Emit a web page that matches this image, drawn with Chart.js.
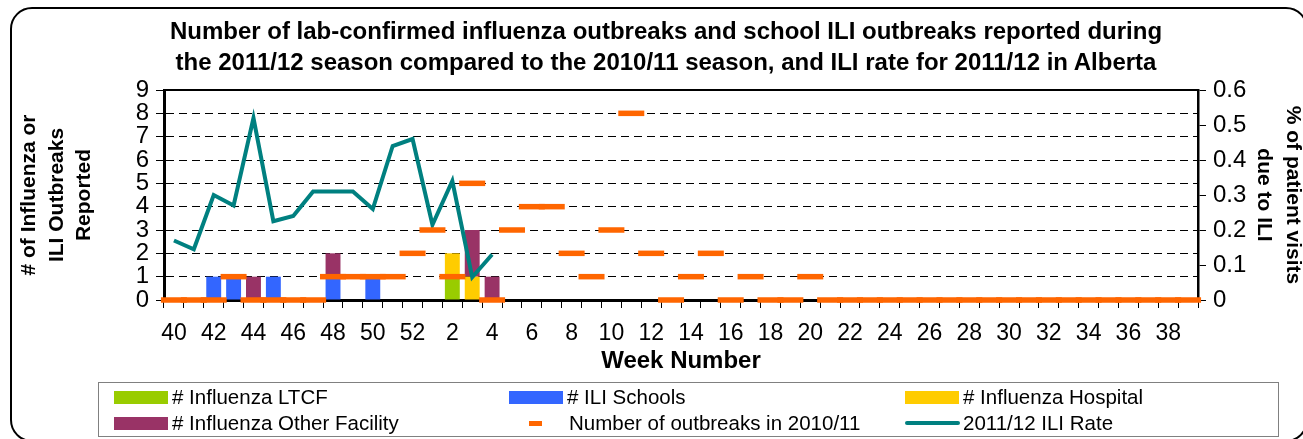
<!DOCTYPE html>
<html>
<head>
<meta charset="utf-8">
<script src="https://cdn.jsdelivr.net/npm/chart.js"></script>
<style>
  html, body { margin: 0; padding: 0; background: #fff; overflow: hidden; }
  body { width: 1303px; height: 439px; position: relative; font-family: Arial, "Liberation Sans", sans-serif; color: #000; }
  #frame { position: absolute; left: 10px; top: 7px; width: 1298px; height: 435px; box-sizing: border-box; border: 2.5px solid #000; border-radius: 22px; }
  #trendChart { position: absolute; left: 0; top: 0; }
  #title { position: absolute; left: 0; width: 1332px; top: 15px; text-align: center; font-weight: bold; font-size: 24px; line-height: 31px; }
  #legend-box { position: absolute; left: 98px; top: 382px; width: 1181px; height: 55px; box-sizing: border-box; border: 1.5px solid #808080; }
  .lg-text { position: absolute; font-size: 20.5px; line-height: 22px; white-space: nowrap; }
  .lg-mark { position: absolute; }
</style>
</head>
<body>
<div id="frame"></div>
<canvas id="trendChart" width="1310" height="439"></canvas>
<div id="title">Number of lab-confirmed influenza outbreaks and school ILI outbreaks reported during<br>the 2011/12 season compared to the 2010/11 season, and ILI rate for 2011/12 in Alberta</div>
<div id="legend-box"></div>
<div id="legend"></div>
<script>
// week numbers, 2011/12 season (week 40 to week 39)
const weeks = ['40','41','42','43','44','45','46','47','48','49','50','51','52',
  '1','2','3','4','5','6','7','8','9','10','11','12','13','14','15','16','17','18','19','20',
  '21','22','23','24','25','26','27','28','29','30','31','32','33','34','35','36','37','38','39'];

// outbreaks per week (left axis)
//                 40 41 42 43 44 45 46 47 48 49 50 51 52  1  2  3  4  5  6  7  8  9 10 11 12 13 14 15 16 17 18 19 20 21 ... 39
const ltcf     = [ 0, 0, 0, 0, 0, 0, 0, 0, 0, 0, 0, 0, 0, 0, 1, 0, 0, 0, 0, 0, 0, 0, 0, 0, 0, 0, 0, 0, 0, 0, 0, 0, 0, 0,0,0,0,0,0,0,0,0,0,0,0,0,0,0,0,0,0,0];
const schools  = [ 0, 0, 1, 1, 0, 1, 0, 0, 1, 0, 1, 0, 0, 0, 0, 0, 0, 0, 0, 0, 0, 0, 0, 0, 0, 0, 0, 0, 0, 0, 0, 0, 0, 0,0,0,0,0,0,0,0,0,0,0,0,0,0,0,0,0,0,0];
const hospital = [ 0, 0, 0, 0, 0, 0, 0, 0, 0, 0, 0, 0, 0, 0, 1, 1, 0, 0, 0, 0, 0, 0, 0, 0, 0, 0, 0, 0, 0, 0, 0, 0, 0, 0,0,0,0,0,0,0,0,0,0,0,0,0,0,0,0,0,0,0];
const otherFac = [ 0, 0, 0, 0, 1, 0, 0, 0, 1, 0, 0, 0, 0, 0, 0, 2, 1, 0, 0, 0, 0, 0, 0, 0, 0, 0, 0, 0, 0, 0, 0, 0, 0, 0,0,0,0,0,0,0,0,0,0,0,0,0,0,0,0,0,0,0];
const prevSeason = [0, 0, 0, 1, 0, 0, 0, 0, 1, 1, 1, 1, 2, 3, 1, 5, 0, 3, 4, 4, 2, 1, 3, 8, 2, 0, 1, 2, 0, 1, 0, 0, 1, 0,0,0,0,0,0,0,0,0,0,0,0,0,0,0,0,0,0,0];

// % of patient visits due to ILI (right axis), reported up to week 4
const iliRate = [0.17, 0.145, 0.30, 0.27, 0.52, 0.225, 0.24, 0.31, 0.31, 0.31, 0.26, 0.44, 0.46,
  0.215, 0.34, 0.065, 0.13];

const leftTicks = { min: 0, max: 9, step: 1 };
const rightTicks = { min: 0, max: 0.6, step: 0.1 };

const C = {
  ltcf: '#99CC00', schools: '#3366FF', hospital: '#FFCC00', other: '#993366',
  prev: '#FF6600', ili: '#008080'
};

// top edge of the plot box
const plotFrame = {
  id: 'plotFrame',
  afterDraw(chart) {
    const a = chart.chartArea, ctx = chart.ctx;
    ctx.save();
    ctx.strokeStyle = '#000';
    ctx.lineWidth = 2;
    ctx.beginPath();
    ctx.moveTo(a.left, a.top);
    ctx.lineTo(a.right, a.top);
    ctx.stroke();
    ctx.restore();
  }
};

const barDs = (label, data, color) => ({
  type: 'bar', label, data, backgroundColor: color, borderWidth: 0,
  yAxisID: 'y', stack: 'outbreaks', order: 3,
  barPercentage: 0.75, categoryPercentage: 1
});

const ctx = document.getElementById('trendChart').getContext('2d');
const myChart = new Chart(ctx, {
  data: {
    labels: weeks,
    datasets: [
      barDs('# Influenza LTCF', ltcf, C.ltcf),
      barDs('# ILI Schools', schools, C.schools),
      barDs('# Influenza Hospital', hospital, C.hospital),
      barDs('# Influenza Other Facility', otherFac, C.other),
      {
        type: 'line', label: 'Number of outbreaks in 2010/11', data: prevSeason,
        yAxisID: 'y', stack: 'prev', order: 0, showLine: false, clip: false,
        pointStyle: 'line', pointRadius: 13, pointBorderWidth: 5.5,
        pointBorderColor: C.prev, pointBackgroundColor: C.prev, borderColor: C.prev
      },
      {
        type: 'line', label: '2011/12 ILI Rate', data: iliRate,
        yAxisID: 'y1', order: 1, borderColor: C.ili, borderWidth: 4,
        pointRadius: 0, tension: 0, borderJoinStyle: 'miter', fill: false
      }
    ]
  },
  options: {
    responsive: false,
    animation: false,
    events: [],
    layout: { padding: { left: 0, right: 0, top: 90, bottom: 59 } },
    plugins: { legend: { display: false }, tooltip: { enabled: false }, title: { display: false } },
    scales: {
      x: {
        stacked: true,
        offset: true,
        afterFit: (s) => { s.height = 80; },
        grid: { offset: true, drawOnChartArea: false, drawTicks: true, tickLength: 8, color: '#000', tickColor: '#000' },
        border: { display: true, color: '#000', width: 3 },
        ticks: {
          autoSkip: false, maxRotation: 0, minRotation: 0, padding: 12,
          color: '#000', font: { family: 'Arial', size: 23 },
          callback: (v, i) => (i % 2 === 0 ? weeks[i] : '')
        },
        title: {
          display: true, text: 'Week Number', color: '#000',
          font: { family: 'Arial', size: 24, weight: 'bold' }, padding: { top: 0, bottom: 4 }
        }
      },
      y: {
        position: 'left',
        stacked: true,
        min: leftTicks.min, max: leftTicks.max,
        afterFit: (s) => { s.width = 164; },
        grid: {
          color: (c) => (c.tick && (c.tick.value === 0 || c.tick.value === 9) ? 'rgba(0,0,0,0)' : '#000'),
          tickBorderDash: [], tickColor: '#000', tickLength: 8, lineWidth: 1
        },
        border: { display: true, color: '#000', width: 3, dash: [8, 5] },
        ticks: { stepSize: leftTicks.step, autoSkip: false, padding: 7, color: '#000', font: { family: 'Arial', size: 24 } },
        title: {
          display: true, text: ['# of Influenza or', 'ILI Outbreaks', 'Reported'], color: '#000',
          font: { family: 'Arial', size: 21, weight: 'bold', lineHeight: 1.3 }, padding: { top: 16, bottom: 0 }
        }
      },
      y1: {
        position: 'right',
        min: rightTicks.min, max: rightTicks.max,
        afterFit: (s) => { s.width = 112; },
        grid: { drawOnChartArea: false, tickColor: '#000', tickLength: 8 },
        border: { display: true, color: '#000', width: 2.5 },
        ticks: {
          stepSize: rightTicks.step, autoSkip: false, padding: 7, color: '#000', font: { family: 'Arial', size: 24 },
          callback: (v) => (v === 0 ? '0' : v.toFixed(1))
        },
        title: {
          display: true, text: ['% of patient visits', 'due to ILI'], color: '#000',
          font: { family: 'Arial', size: 21, weight: 'bold', lineHeight: 1.38 }, padding: { top: 3, bottom: 0 }
        }
      }
    }
  },
  plugins: [plotFrame]
});

// legend, laid out in two rows of three like the original
const legendItems = [
  { text: '# Influenza LTCF', kind: 'box', color: C.ltcf, x: 114, row: 0 },
  { text: '# ILI Schools', kind: 'box', color: C.schools, x: 509, row: 0 },
  { text: '# Influenza Hospital', kind: 'box', color: C.hospital, x: 905, row: 0 },
  { text: '# Influenza Other Facility', kind: 'box', color: C.other, x: 114, row: 1 },
  { text: 'Number of outbreaks in 2010/11', kind: 'dash', color: C.prev, x: 529, row: 1 },
  { text: '2011/12 ILI Rate', kind: 'line', color: C.ili, x: 905, row: 1 }
];
const rowY = [397, 423];
const legend = document.getElementById('legend');
legendItems.forEach((it) => {
  const cy = rowY[it.row];
  const m = document.createElement('div');
  m.className = 'lg-mark';
  m.style.background = it.color;
  let w = 54, h = 13, tx = it.x + 58;
  if (it.kind === 'dash') { w = 13; h = 5; tx = it.x + 40; }
  if (it.kind === 'line') { w = 55; h = 4; }
  m.style.left = it.x + 'px';
  m.style.width = w + 'px';
  m.style.height = h + 'px';
  m.style.top = (cy - h / 2) + 'px';
  if (it.kind === 'line') m.style.borderRadius = '2px';
  legend.appendChild(m);
  const t = document.createElement('div');
  t.className = 'lg-text';
  t.textContent = it.text;
  t.style.left = tx + 'px';
  t.style.top = (cy - 11) + 'px';
  legend.appendChild(t);
});
</script>
</body>
</html>
